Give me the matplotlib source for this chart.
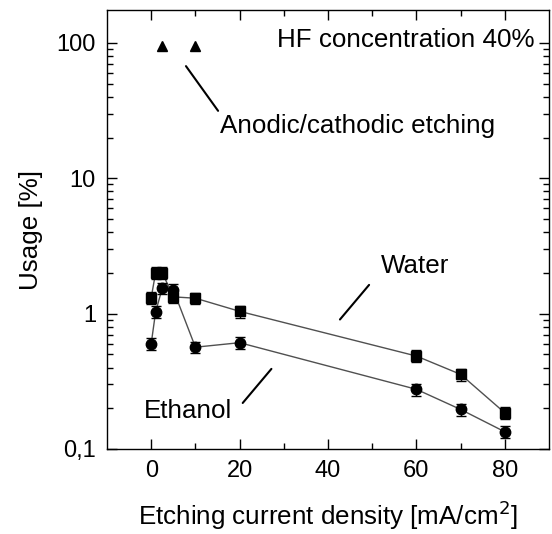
import matplotlib
matplotlib.use("Agg")
import matplotlib.pyplot as plt
import numpy as np

plt.rcParams['font.family'] = ['Liberation Sans', 'DejaVu Sans']

water_x = [0, 1, 2.5, 5, 10, 20, 60, 70, 80]
water_y = [1.31, 2.01, 2.01, 1.33, 1.30, 1.04, 0.486, 0.356, 0.185]
ethanol_x = [0, 1, 2.5, 5, 10, 20, 60, 70, 80]
ethanol_y = [0.60, 1.03, 1.54, 1.50, 0.565, 0.61, 0.276, 0.196, 0.134]
anodic_x = [2.5, 10]
anodic_y = [95, 95]
rel_err = 0.1

xticks = [0, 20, 40, 60, 80]
yticks = [0.1, 1, 10, 100]
ytick_labels = ['0,1', '1', '10', '100']

fig = plt.figure(figsize=(5.52, 5.34), dpi=100)
ax = fig.add_axes([107/552, (534-449)/534, 442/552, 439/534])

fs_tick = 17
fs = 18.7
line_col = '#505050'

wy = np.array(water_y)
ax.errorbar(water_x, wy, yerr=wy*rel_err, fmt='s', color='black', ms=6.5,
            ecolor='black', elinewidth=1, capsize=3.5, capthick=1, zorder=3)
ax.plot(water_x, wy, '-', color=line_col, lw=1, zorder=2)

ey = np.array(ethanol_y)
ax.errorbar(ethanol_x, ey, yerr=ey*rel_err, fmt='o', color='black', ms=7.5,
            ecolor='black', elinewidth=1, capsize=3.5, capthick=1, zorder=3)
ax.plot(ethanol_x, ey, '-', color=line_col, lw=1, zorder=2)

ax.plot(anodic_x, anodic_y, '^', color='black', ms=6.5, zorder=3)

ax.set_yscale('log')
ax.set_xlim(-10, 90)
ax.set_ylim(0.1, 175)
ax.set_xticks(xticks)
ax.set_xticks([10, 30, 50, 70], minor=True)
ax.set_yticks(yticks)
ax.set_yticklabels(ytick_labels)
ax.tick_params(which='both', direction='in', top=True, right=True, labelsize=fs_tick, width=1)
ax.tick_params(which='major', length=7, pad=8)
ax.tick_params(which='minor', length=4)
for s in ax.spines.values():
    s.set_linewidth(1)

ax.set_xlabel('Etching current density [mA/cm$^2$]', fontsize=fs, labelpad=12)
ax.set_ylabel('Usage [%]', fontsize=fs, labelpad=10)

ax.text(0.968, 0.916, 'HF concentration 40%', transform=ax.transAxes,
        ha='right', va='baseline', fontsize=fs)

ax.annotate('', xy=(7.5, 70), xytext=(15.5, 30.3),
            arrowprops=dict(arrowstyle='-', color='black', lw=1.5))
ax.text(15.5, 21.5, 'Anodic/cathodic etching', ha='left', va='baseline', fontsize=fs)

ax.annotate('', xy=(49.7, 1.69), xytext=(42.3, 0.873),
            arrowprops=dict(arrowstyle='-', color='black', lw=1.5))
ax.text(52, 2.01, 'Water', ha='left', va='baseline', fontsize=fs)

ax.annotate('', xy=(27.6, 0.405), xytext=(20.3, 0.211),
            arrowprops=dict(arrowstyle='-', color='black', lw=1.5))
ax.text(18.4, 0.169, 'Ethanol', ha='right', va='baseline', fontsize=fs)

fig.savefig('out.png', dpi=100)
